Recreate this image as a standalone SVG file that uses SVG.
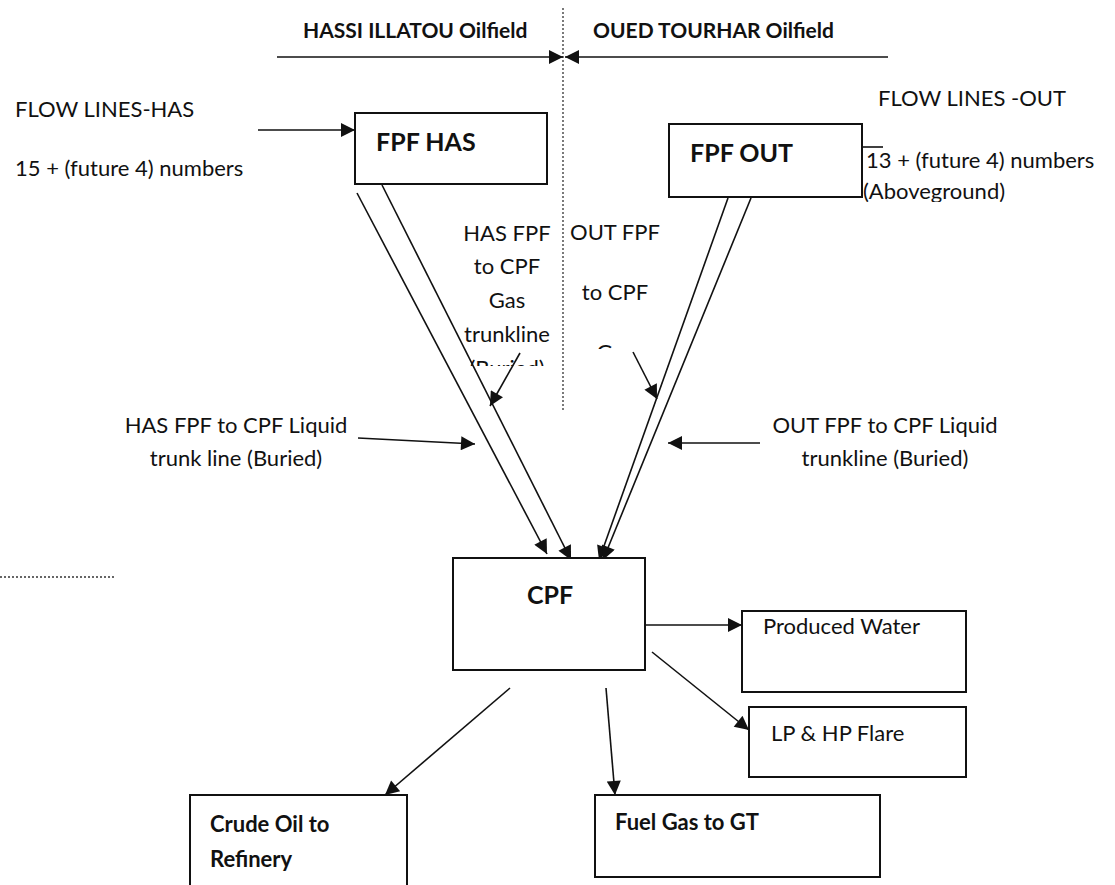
<svg xmlns="http://www.w3.org/2000/svg" width="1115" height="885" viewBox="0 0 1115 885">
<style>
.t{font-family:Lato,"Liberation Sans",sans-serif;font-size:22px;fill:#111}
.b{font-family:Lato,"Liberation Sans",sans-serif;font-weight:bold;fill:#111}
.box{fill:#fff;stroke:#111;stroke-width:2}
.ln{stroke:#111;stroke-width:1.6;fill:none}
.dot{stroke:#333;stroke-width:1.3;stroke-dasharray:2 2;fill:none}
</style>
<defs>
<marker id="ah" viewBox="0 0 10 10" refX="10" refY="5" markerWidth="17" markerHeight="14" markerUnits="userSpaceOnUse" orient="auto">
<path d="M0,0 L10,5 L0,10 Z" fill="#111"/>
</marker>
<clipPath id="cHas"><rect x="440" y="200" width="140" height="166"/></clipPath>
<clipPath id="cOut"><rect x="565" y="200" width="110" height="149"/></clipPath>
<clipPath id="cAbove"><rect x="858" y="180" width="257" height="22"/></clipPath>
</defs>

<g id="header">
<text class="b" x="303" y="38" font-size="21">HASSI ILLATOU Oilfield</text>
<text class="b" x="593" y="38" font-size="21">OUED TOURHAR Oilfield</text>
</g>

<g id="connectors">
<line class="dot" x1="563" y1="8" x2="563" y2="412"/>
<line class="dot" x1="0" y1="577" x2="115" y2="577"/>
<line class="ln" x1="277" y1="57" x2="563" y2="57" marker-end="url(#ah)"/>
<line class="ln" x1="888" y1="57" x2="565" y2="57" marker-end="url(#ah)"/>
<line class="ln" x1="258" y1="130" x2="355" y2="130" marker-end="url(#ah)"/>
<line class="ln" x1="862" y1="147" x2="883" y2="147"/>
<line class="ln" x1="357" y1="193" x2="547" y2="554" marker-end="url(#ah)"/>
<line class="ln" x1="382" y1="185" x2="571" y2="560" marker-end="url(#ah)"/>
<line class="ln" x1="728" y1="198" x2="599" y2="560" marker-end="url(#ah)"/>
<line class="ln" x1="751" y1="198" x2="603" y2="560" marker-end="url(#ah)"/>
<line class="ln" x1="520" y1="353" x2="490" y2="406" marker-end="url(#ah)"/>
<line class="ln" x1="633" y1="352" x2="657" y2="399" marker-end="url(#ah)"/>
<line class="ln" x1="358" y1="438" x2="475" y2="444" marker-end="url(#ah)"/>
<line class="ln" x1="760" y1="443" x2="668" y2="443" marker-end="url(#ah)"/>
<line class="ln" x1="645" y1="625" x2="742" y2="625" marker-end="url(#ah)"/>
<line class="ln" x1="652" y1="652" x2="749" y2="730" marker-end="url(#ah)"/>
<line class="ln" x1="606" y1="688" x2="615" y2="795" marker-end="url(#ah)"/>
<line class="ln" x1="510" y1="688" x2="385" y2="795" marker-end="url(#ah)"/>
</g>

<g id="labels">
<text class="t" x="15" y="117">FLOW LINES-HAS</text>
<text class="t" x="15" y="176">15 + (future 4) numbers</text>
<text class="t" x="878" y="106">FLOW LINES -OUT</text>
<text class="t" x="866" y="168">13 + (future 4) numbers</text>
<text class="t" x="863" y="199" clip-path="url(#cAbove)">(Aboveground)</text>
<g clip-path="url(#cHas)">
<text class="t" x="507" y="241" text-anchor="middle">HAS FPF</text>
<text class="t" x="507" y="274" text-anchor="middle">to CPF</text>
<text class="t" x="507" y="308" text-anchor="middle">Gas</text>
<text class="t" x="507" y="342" text-anchor="middle">trunkline</text>
<text class="t" x="507" y="376" text-anchor="middle">(Buried)</text>
</g>
<g clip-path="url(#cOut)">
<text class="t" x="615" y="240" text-anchor="middle">OUT FPF</text>
<text class="t" x="615" y="300" text-anchor="middle">to CPF</text>
<text class="t" x="615" y="360" text-anchor="middle">Gas</text>
</g>
<text class="t" x="236" y="433" text-anchor="middle">HAS FPF to CPF Liquid</text>
<text class="t" x="236" y="466" text-anchor="middle">trunk line (Buried)</text>
<text class="t" x="885" y="433" text-anchor="middle">OUT FPF to CPF Liquid</text>
<text class="t" x="885" y="466" text-anchor="middle">trunkline (Buried)</text>
</g>

<g id="fpf-has">
<rect class="box" x="355" y="113" width="192" height="71"/>
<text class="b" x="376" y="151" font-size="25">FPF HAS</text>
</g>
<g id="fpf-out">
<rect class="box" x="669" y="124" width="193" height="73"/>
<text class="b" x="690" y="162" font-size="25">FPF OUT</text>
</g>
<g id="cpf">
<rect class="box" x="453" y="558" width="192" height="112"/>
<text class="b" x="527" y="604" font-size="25">CPF</text>
</g>
<g id="produced-water">
<rect class="box" x="742" y="611" width="224" height="81"/>
<text class="t" x="763" y="634">Produced Water</text>
</g>
<g id="flare">
<rect class="box" x="749" y="707" width="217" height="70"/>
<text class="t" x="771" y="741">LP &amp; HP Flare</text>
</g>
<g id="fuel-gas">
<rect class="box" x="595" y="795" width="285" height="82"/>
<text class="b" x="615" y="830" font-size="22">Fuel Gas to GT</text>
</g>
<g id="crude-oil">
<rect class="box" x="190" y="795" width="217" height="110"/>
<text class="b" x="210" y="832" font-size="22">Crude Oil to</text>
<text class="b" x="210" y="867" font-size="22">Refinery</text>
</g>
</svg>
